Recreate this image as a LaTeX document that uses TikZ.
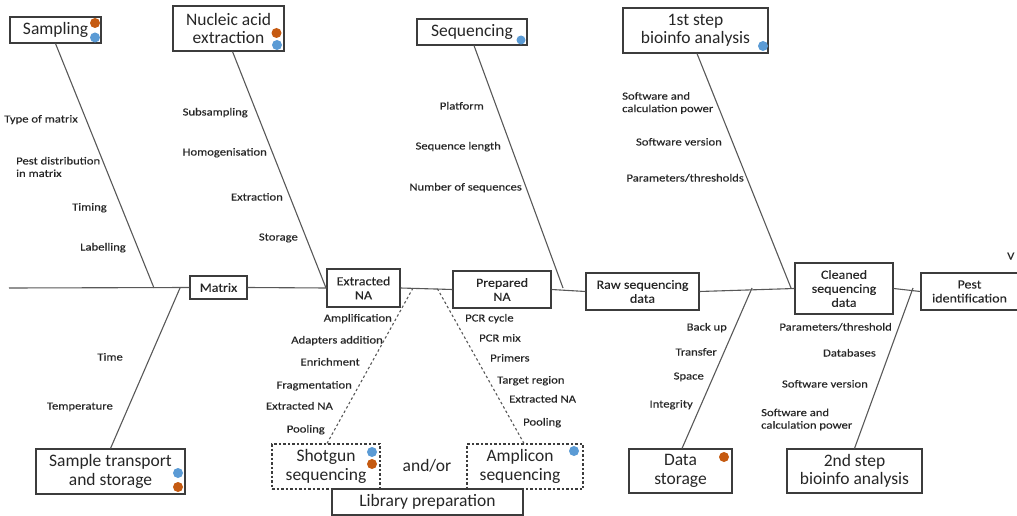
\documentclass[tikz,border=0pt]{standalone}
\usepackage{fontspec}
\setmainfont{Carlito}
\newfontfamily\lblfont[FakeStretch=1.17,FakeBold=0.3]{Carlito}
\newfontfamily\midfont[FakeStretch=1.12,FakeBold=0.2]{Carlito}
\usetikzlibrary{calc}
\definecolor{dotblue}{HTML}{5B9BD5}
\definecolor{dotorange}{HTML}{C55A11}
\definecolor{edge}{HTML}{3C3C3C}
\definecolor{ink}{HTML}{262626}
\definecolor{bonecol}{HTML}{585858}

\begin{document}
\begin{tikzpicture}[x=1pt,y=-1pt,
  bigbox/.style={draw=edge, line width=1.1pt, inner sep=0pt, align=center, text=ink,
    font=\fontsize{17.5}{18.5}\selectfont},
  midbox/.style={draw=edge, line width=1.1pt, inner sep=0pt, align=center, text=ink,
    font=\midfont\fontsize{12.5}{14}\selectfont},
  dashbox/.style={bigbox, dash pattern=on 2.5pt off 2pt},
  lbl/.style={inner sep=0pt, text=ink, font=\lblfont\fontsize{10.8}{12.5}\selectfont,
    text height=7.2pt, text depth=2.2pt},
  lblR/.style={lbl, anchor=east},
  lblL/.style={lbl, anchor=west},
  lbltwo/.style={inner sep=0pt, text=ink, align=left, anchor=west,
    font=\lblfont\fontsize{10.8}{12.5}\selectfont},
  bone/.style={draw=bonecol, line width=1.1pt},
  dashbone/.style={bone, dash pattern=on 2.5pt off 2.5pt},
  bluedot/.style={fill=dotblue},
  orangedot/.style={fill=dotorange}
]
\useasboundingbox (0,0) rectangle (1017,516);

% ---------- cause boxes above the spine ----------
\node[bigbox, minimum width=91, minimum height=26] (sampling) at (55.5,30) {Sampling};
\node[bigbox, minimum width=111, minimum height=45] (nucleic) at (228.5,28.5) {Nucleic acid\\extraction};
\node[bigbox, minimum width=110, minimum height=26] (seqbox) at (472,32) {Sequencing};
\node[bigbox, minimum width=145, minimum height=45] (stepone) at (695.5,30.5) {1st step\\bioinfo analysis};

% ---------- process chain on the spine ----------
\node[midbox, minimum width=57, minimum height=23] (matrix) at (218.5,287.5) {Matrix};
\node[midbox, minimum width=73, minimum height=38] (exna) at (363.5,288) {Extracted\\NA};
\node[midbox, minimum width=98, minimum height=37] (prna) at (502,289.5) {Prepared\\NA};
\node[midbox, minimum width=113, minimum height=37] (raw) at (642.5,291.5) {Raw sequencing\\data};
\node[midbox, minimum width=98, minimum height=51] (clean) at (844,288.5) {Cleaned\\sequencing\\data};
\node[midbox, minimum width=97, minimum height=37] (pest) at (969.5,291.5) {Pest\\identification};

% ---------- cause boxes below the spine ----------
\node[bigbox, minimum width=149, minimum height=45] (transport) at (110.5,471.5) {Sample transport\\and storage};
\node[dashbox, minimum width=108, minimum height=45] (shotgun) at (326,466.5) {Shotgun\\sequencing};
\node[dashbox, minimum width=116, minimum height=45] (amplicon) at (525,466.5) {\hspace*{-10pt}Amplicon\\\hspace*{-10pt}sequencing};
\node[text=ink, font=\fontsize{17.5}{18.5}\selectfont, inner sep=0pt] (andor) at (427,466) {and/or};
\node[bigbox, minimum width=191, minimum height=26] (library) at (427.5,502) {Library preparation};
\node[bigbox, minimum width=103, minimum height=44] (datastor) at (680.5,471) {Data\\storage};
\node[bigbox, minimum width=135, minimum height=44] (steptwo) at (854.5,471) {2nd step\\bioinfo analysis};

% ---------- spine ----------
\coordinate (tail) at (9,288);
\draw[bone] (tail) -- (matrix.west);
\draw[bone] (matrix.east) -- (exna.west);
\draw[bone] (exna.east) -- (prna.west);
\draw[bone] (prna.east) -- (raw.west);
\draw[bone] (raw.east) -- (clean.west);
\draw[bone] (clean.east) -- (pest.west);

% ---------- branch junctions on the spine ----------
\coordinate (jsampling) at (154,288);
\coordinate (jnucleic) at (326,288);
\coordinate (jseq) at (563,288);
\coordinate (jstepone) at (791,288);
\coordinate (jtransport) at (180,288);
\coordinate (jshotgun) at (413,288);
\coordinate (jamplicon) at (437,288);
\coordinate (jdatastor) at (752,288);
\coordinate (jsteptwo) at (913,288);

% ---------- branches ----------
\draw[bone] (sampling.south) -- (jsampling);
\draw[bone] (nucleic.south) ++(4,0) -- (jnucleic);
\draw[bone] (seqbox.south) ++(2,0) -- (jseq);
\draw[bone] (stepone.south) ++(1.5,0) -- (jstepone);
\draw[bone] (transport.north) -- (jtransport);
\draw[dashbone] (shotgun.north) ++(1,0) -- (jshotgun);
\draw[dashbone] (amplicon.north) ++(-1,0) -- (jamplicon);
\draw[bone] (datastor.north) ++(1.5,0) -- (jdatastor);
\draw[bone] (steptwo.north) -- (jsteptwo);

% ---------- coloured markers ----------
\fill[orangedot] (95,23) circle (5);
\fill[bluedot] (95,37.5) circle (5);
\fill[orangedot] (276.5,33) circle (5);
\fill[bluedot] (277,45) circle (5);
\fill[bluedot] (521,40) circle (4.5);
\fill[bluedot] (763,46) circle (5);
\fill[bluedot] (178,473) circle (5);
\fill[orangedot] (178,487) circle (5);
\fill[bluedot] (372,452) circle (5);
\fill[orangedot] (372,464) circle (5);
\fill[bluedot] (574,451) circle (5);
\fill[orangedot] (724,457) circle (5);

% ---------- sampling factors ----------
\node[lblR] (s1) at (78,120) {Type of matrix};
\node[lbltwo] (s2) at (16,167) {Pest distribution\\in matrix};
\node[lblR] (s3) at (107,208) {Timing};
\node[lblR] (s4) at (126,248) {Labelling};

% ---------- extraction factors ----------
\node[lblR] (n1) at (248,113) {Subsampling};
\node[lblR] (n2) at (267,153) {Homogenisation};
\node[lblR] (n3) at (283,198) {Extraction};
\node[lblR] (n4) at (298,238) {Storage};

% ---------- sequencing factors ----------
\node[lblR] (q1) at (484,107) {Platform};
\node[lblR] (q2) at (501,147) {Sequence length};
\node[lblR] (q3) at (522,188) {Number of sequences};

% ---------- first bioinformatics step factors ----------
\node[lbltwo] (b1) at (622,103) {Software and\\calculation power};
\node[lblR] (b2) at (722,143) {Software version};
\node[lblR] (b3) at (744,179) {Parameters/thresholds};

% ---------- transport factors ----------
\node[lblR] (t1) at (123,358) {Time};
\node[lblR] (t2) at (113,407) {Temperature};

% ---------- shotgun library factors ----------
\node[lblR] (g1) at (392,319) {Amplification};
\node[lblR] (g2) at (383,341) {Adapters addition};
\node[lblR] (g3) at (360,363) {Enrichment};
\node[lblR] (g4) at (352,386) {Fragmentation};
\node[lblR] (g5) at (333,407) {Extracted NA};
\node[lblR] (g6) at (325,430) {Pooling};

% ---------- amplicon library factors ----------
\node[lblL] (a1) at (465,319) {PCR cycle};
\node[lblL] (a2) at (479,339) {PCR mix};
\node[lblL] (a3) at (490,359) {Primers};
\node[lblL] (a4) at (497,381) {Target region};
\node[lblL] (a5) at (509,400) {Extracted NA};
\node[lblL] (a6) at (523,423) {Pooling};

% ---------- data storage factors ----------
\node[lblR] (d1) at (727,328) {Back up};
\node[lblR] (d2) at (717,353) {Transfer};
\node[lblR] (d3) at (704,377) {Space};
\node[lblR] (d4) at (693,405) {Integrity};

% ---------- second bioinformatics step factors ----------
\node[lblR] (e1) at (892,328) {Parameters/threshold};
\node[lblR] (e2) at (876,354) {Databases};
\node[lblR] (e3) at (868,385) {Software version};
\node[lbltwo] (e4) at (761,419.5) {Software and\\calculation power};

% small letter at the right margin
\node[lblL] (edgeletter) at (1007,257) {V};
\end{tikzpicture}
\end{document}
